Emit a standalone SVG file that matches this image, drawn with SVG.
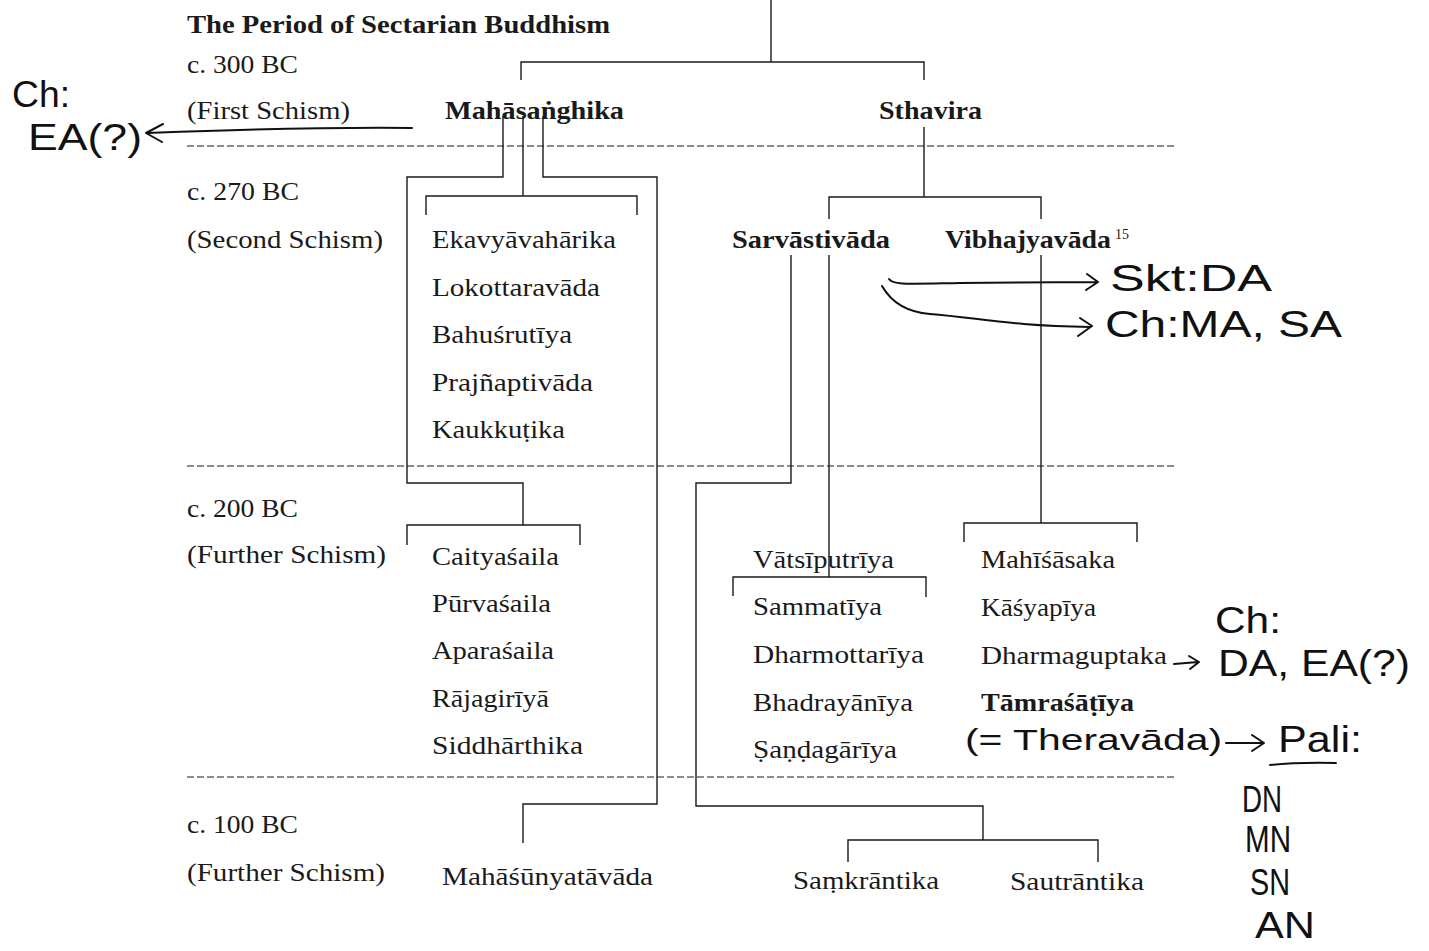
<svg xmlns="http://www.w3.org/2000/svg" width="1429" height="951" viewBox="0 0 1429 951">
<style>
.t{font-family:"Liberation Serif","Times New Roman",serif;font-size:26px;fill:#1a1a1a}
.b{font-weight:bold}
.h{font-family:"Liberation Sans",Arial,sans-serif;font-size:36px;fill:#111}
.ln{stroke:#1a1a1a;stroke-width:1.4;fill:none}
.dash{stroke:#1a1a1a;stroke-width:1.2;stroke-dasharray:7 3;fill:none}
.hw{stroke:#111;stroke-width:2;fill:none;stroke-linecap:round;stroke-linejoin:round}
</style>
<rect width="1429" height="951" fill="#fff"/>
<g id="periods">
<text class="t b" x="187" y="33" textLength="423" lengthAdjust="spacingAndGlyphs">The Period of Sectarian Buddhism</text>
<text class="t" x="187" y="73" textLength="111" lengthAdjust="spacingAndGlyphs">c. 300 BC</text>
<text class="t" x="187" y="119" textLength="163" lengthAdjust="spacingAndGlyphs">(First Schism)</text>
<text class="t" x="187" y="200" textLength="112" lengthAdjust="spacingAndGlyphs">c. 270 BC</text>
<text class="t" x="187" y="248" textLength="196" lengthAdjust="spacingAndGlyphs">(Second Schism)</text>
<text class="t" x="187" y="517" textLength="111" lengthAdjust="spacingAndGlyphs">c. 200 BC</text>
<text class="t" x="187" y="563" textLength="199" lengthAdjust="spacingAndGlyphs">(Further Schism)</text>
<text class="t" x="187" y="833" textLength="111" lengthAdjust="spacingAndGlyphs">c. 100 BC</text>
<text class="t" x="187" y="881" textLength="198" lengthAdjust="spacingAndGlyphs">(Further Schism)</text>
</g>
<g id="connectors">
<line class="dash" x1="187" y1="146" x2="1175" y2="146"/>
<line class="dash" x1="187" y1="466" x2="1175" y2="466"/>
<line class="dash" x1="187" y1="777" x2="1175" y2="777"/>
<path class="ln" d="M771,0 V62 M521,80 V62 H924 V80"/>
<path class="ln" d="M503,116 V177 H407 V483 H523 V525"/>
<path class="ln" d="M543,116 V177 H657 V804 H523 V843"/>
<path class="ln" d="M523,116 V196 M426,215 V196 H637 V215"/>
<path class="ln" d="M407,545 V525 H580 V545"/>
<path class="ln" d="M924,127 V197 M829,219 V197 H1041 V219"/>
<path class="ln" d="M791,255 V483 H696 V806 H983 V840 M848,862 V840 H1098 V862"/>
<path class="ln" d="M829,255 V577 M733,596 V577 H926 V597"/>
<path class="ln" d="M1041,255 V523 M964,542 V523 H1137 V542"/>
</g>
<g id="mahasanghika"><text class="t b" x="445" y="119" textLength="179" lengthAdjust="spacingAndGlyphs">Mahāsaṅghika</text></g>
<g id="sthavira"><text class="t b" x="879" y="119" textLength="103" lengthAdjust="spacingAndGlyphs">Sthavira</text></g>
<g id="mahasanghika-branches">
<text class="t" x="432" y="248" textLength="184" lengthAdjust="spacingAndGlyphs">Ekavyāvahārika</text>
<text class="t" x="432" y="296" textLength="168" lengthAdjust="spacingAndGlyphs">Lokottaravāda</text>
<text class="t" x="432" y="343" textLength="140" lengthAdjust="spacingAndGlyphs">Bahuśrutīya</text>
<text class="t" x="432" y="391" textLength="161" lengthAdjust="spacingAndGlyphs">Prajñaptivāda</text>
<text class="t" x="432" y="438" textLength="133" lengthAdjust="spacingAndGlyphs">Kaukkuṭika</text>
</g>
<g id="sarvastivada"><text class="t b" x="732" y="248" textLength="158" lengthAdjust="spacingAndGlyphs">Sarvāstivāda</text></g>
<g id="vibhajyavada"><text class="t b" x="945" y="248" textLength="166" lengthAdjust="spacingAndGlyphs">Vibhajyavāda</text><text class="t" x="1115" y="239" style="font-size:14px">15</text></g>
<g id="caitya-group">
<text class="t" x="432" y="565" textLength="127" lengthAdjust="spacingAndGlyphs">Caityaśaila</text>
<text class="t" x="432" y="612" textLength="119" lengthAdjust="spacingAndGlyphs">Pūrvaśaila</text>
<text class="t" x="432" y="659" textLength="122" lengthAdjust="spacingAndGlyphs">Aparaśaila</text>
<text class="t" x="432" y="707" textLength="117" lengthAdjust="spacingAndGlyphs">Rājagirīyā</text>
<text class="t" x="432" y="754" textLength="151" lengthAdjust="spacingAndGlyphs">Siddhārthika</text>
</g>
<g id="vatsiputriya"><text class="t" x="753" y="568" textLength="141" lengthAdjust="spacingAndGlyphs">Vātsīputrīya</text></g>
<g id="vatsiputriya-branches">
<text class="t" x="753" y="615" textLength="129" lengthAdjust="spacingAndGlyphs">Sammatīya</text>
<text class="t" x="753" y="663" textLength="171" lengthAdjust="spacingAndGlyphs">Dharmottarīya</text>
<text class="t" x="753" y="711" textLength="160" lengthAdjust="spacingAndGlyphs">Bhadrayānīya</text>
<text class="t" x="753" y="758" textLength="144" lengthAdjust="spacingAndGlyphs">Ṣaṇḍagārīya</text>
</g>
<g id="vibhajyavada-branches">
<text class="t" x="981" y="568" textLength="134" lengthAdjust="spacingAndGlyphs">Mahīśāsaka</text>
<text class="t" x="981" y="616" textLength="115" lengthAdjust="spacingAndGlyphs">Kāśyapīya</text>
<text class="t" x="981" y="664" textLength="186" lengthAdjust="spacingAndGlyphs">Dharmaguptaka</text>
<text class="t b" x="981" y="711" textLength="153" lengthAdjust="spacingAndGlyphs">Tāmraśāṭīya</text>
</g>
<g id="mahasunyatavada"><text class="t" x="442" y="885" textLength="211" lengthAdjust="spacingAndGlyphs">Mahāśūnyatāvāda</text></g>
<g id="samkrantika"><text class="t" x="793" y="889" textLength="146" lengthAdjust="spacingAndGlyphs">Saṃkrāntika</text></g>
<g id="sautrantika"><text class="t" x="1010" y="890" textLength="134" lengthAdjust="spacingAndGlyphs">Sautrāntika</text></g>
<g id="annotations">
<path class="hw" d="M412,128 C300,127 200,131 147,133 M163,124 L146,133 L162,142"/>
<path class="hw" d="M889,279 C893,285 905,284 960,283 L1096,282 M1087,274 L1098,282 L1086,290"/>
<path class="hw" d="M882,286 C890,300 905,312 930,314 C980,318 1010,326 1090,327 M1080,318 L1092,326 L1078,336"/>
<path class="hw" d="M1174,664 L1198,662 M1189,656 L1199,662 L1190,669"/>
<path class="hw" d="M1226,743 L1262,743 M1252,735 L1264,743 L1252,751"/>
<path class="hw" d="M1270,765 Q1300,762 1336,763"/>
<text class="h" x="12" y="107" textLength="58" lengthAdjust="spacingAndGlyphs">Ch:</text>
<text class="h" x="28" y="150" textLength="114" lengthAdjust="spacingAndGlyphs">EA(?)</text>
<text class="h" x="1110" y="291" textLength="162" lengthAdjust="spacingAndGlyphs">Skt:DA</text>
<text class="h" x="1105" y="337" textLength="237" lengthAdjust="spacingAndGlyphs">Ch:MA, SA</text>
<text class="h" x="1215" y="633" textLength="66" lengthAdjust="spacingAndGlyphs">Ch:</text>
<text class="h" x="1218" y="676" textLength="192" lengthAdjust="spacingAndGlyphs">DA, EA(?)</text>
<text class="h" x="965" y="750" style="font-size:29px" textLength="257" lengthAdjust="spacingAndGlyphs">(= Theravāda)</text>
<text class="h" x="1278" y="752" textLength="84" lengthAdjust="spacingAndGlyphs">Pali:</text>
<text class="h" x="1242" y="812" textLength="40" lengthAdjust="spacingAndGlyphs">DN</text>
<text class="h" x="1245" y="852" textLength="46" lengthAdjust="spacingAndGlyphs">MN</text>
<text class="h" x="1250" y="895" textLength="40" lengthAdjust="spacingAndGlyphs">SN</text>
<text class="h" x="1255" y="938" textLength="60" lengthAdjust="spacingAndGlyphs">AN</text>
</g>
</svg>
